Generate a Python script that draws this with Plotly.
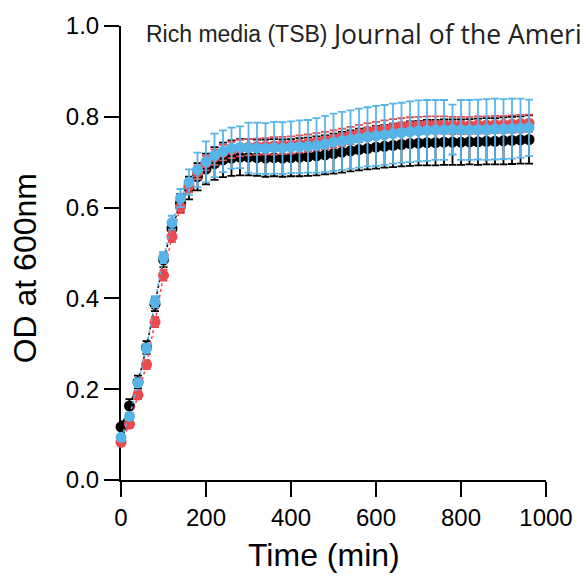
import plotly.graph_objects as go

# Sampling times (min)
time_min = list(range(0, 961, 20))

# Mean OD600 and error for each strain
od_black = [0.117, 0.163, 0.216, 0.292, 0.387, 0.485, 0.554, 0.610, 0.643, 0.668,
            0.685, 0.697, 0.705, 0.709, 0.711, 0.711, 0.710, 0.709, 0.710, 0.709,
            0.710, 0.711, 0.712, 0.714, 0.716, 0.719, 0.722, 0.725, 0.728, 0.730,
            0.733, 0.735, 0.737, 0.739, 0.741, 0.742, 0.743, 0.743, 0.744, 0.744,
            0.744, 0.745, 0.745, 0.746, 0.746, 0.747, 0.748, 0.749, 0.750]
err_black = [0.012, 0.015, 0.014, 0.014, 0.015, 0.016, 0.018, 0.020, 0.025, 0.030,
             0.034, 0.036, 0.038, 0.039, 0.040, 0.040, 0.040, 0.041, 0.041, 0.041,
             0.041, 0.042, 0.042, 0.043, 0.043, 0.044, 0.045, 0.045, 0.046, 0.046,
             0.047, 0.047, 0.048, 0.048, 0.049, 0.049, 0.050, 0.050, 0.050, 0.050,
             0.050, 0.050, 0.051, 0.051, 0.051, 0.052, 0.052, 0.052, 0.053]

od_red = [0.083, 0.123, 0.187, 0.254, 0.348, 0.451, 0.536, 0.601, 0.648, 0.678,
          0.698, 0.711, 0.721, 0.727, 0.731, 0.733, 0.734, 0.735, 0.736, 0.737,
          0.738, 0.740, 0.742, 0.745, 0.748, 0.751, 0.755, 0.759, 0.763, 0.767,
          0.770, 0.773, 0.776, 0.778, 0.780, 0.781, 0.782, 0.782, 0.782, 0.781,
          0.781, 0.781, 0.782, 0.782, 0.783, 0.783, 0.784, 0.785, 0.786]
err_red = [0.008, 0.008, 0.009, 0.010, 0.011, 0.012, 0.012, 0.013, 0.014, 0.015,
           0.016, 0.017, 0.017, 0.018, 0.018, 0.018, 0.018, 0.018, 0.019, 0.019,
           0.019, 0.019, 0.019, 0.019, 0.019, 0.019, 0.019, 0.019, 0.019, 0.019,
           0.019, 0.019, 0.019, 0.019, 0.019, 0.019, 0.019, 0.019, 0.019, 0.019,
           0.019, 0.019, 0.019, 0.019, 0.019, 0.019, 0.019, 0.019, 0.019]

od_blue = [0.094, 0.140, 0.214, 0.290, 0.393, 0.490, 0.567, 0.621, 0.656, 0.683,
           0.701, 0.715, 0.724, 0.731, 0.733, 0.732, 0.731, 0.730, 0.732, 0.731,
           0.733, 0.734, 0.735, 0.737, 0.740, 0.744, 0.747, 0.750, 0.753, 0.756,
           0.758, 0.760, 0.763, 0.765, 0.767, 0.769, 0.770, 0.771, 0.771, 0.772,
           0.771, 0.771, 0.772, 0.772, 0.773, 0.773, 0.774, 0.775, 0.776]
err_blue = [0.008, 0.008, 0.009, 0.010, 0.012, 0.012, 0.015, 0.020, 0.028, 0.038,
            0.045, 0.048, 0.046, 0.045, 0.046, 0.055, 0.056, 0.056, 0.057, 0.057,
            0.057, 0.058, 0.058, 0.060, 0.062, 0.063, 0.064, 0.064, 0.065, 0.065,
            0.066, 0.066, 0.066, 0.066, 0.067, 0.067, 0.067, 0.066, 0.066, 0.055,
            0.066, 0.066, 0.066, 0.067, 0.067, 0.066, 0.066, 0.065, 0.062]

series = [
    ("black", od_black, err_black, "#000000"),
    ("red", od_red, err_red, "#EB4A4E"),
    ("blue", od_blue, err_blue, "#56B4E9"),
]

fig = go.Figure()
for name, ys, errs, col in series:
    fig.add_trace(go.Scatter(
        x=time_min, y=ys, name=name, mode="lines+markers",
        line=dict(color=col, width=1.5, dash="dot"),
        marker=dict(color=col, size=11, line=dict(width=0)),
        error_y=dict(type="data", array=errs, visible=True,
                     color=col, thickness=1.8, width=4),
        cliponaxis=False, showlegend=False,
    ))

axis_font = dict(family="Liberation Sans, Arial, sans-serif", size=24, color="black")
common = dict(showline=True, linecolor="black", linewidth=2, ticks="outside",
              ticklen=15, tickwidth=2, tickcolor="black", showgrid=False,
              zeroline=False, tickfont=axis_font, layer="below traces")

fig.update_xaxes(range=[0, 1000], tickvals=[0, 200, 400, 600, 800, 1000], **common)
fig.update_yaxes(range=[0, 1.0], tickvals=[0, 0.2, 0.4, 0.6, 0.8, 1.0],
                 tickformat=".1f", **common)

title_font = dict(family="Liberation Sans, Arial, sans-serif", size=32, color="black")
fig.add_annotation(text="Time (min)", xref="paper", yref="paper", x=0.478, y=-0.165,
                   xanchor="center", yanchor="middle", showarrow=False, font=title_font)
fig.add_annotation(text="OD at 600nm", xref="paper", yref="paper", x=-0.225, y=0.467,
                   xanchor="center", yanchor="middle", textangle=-90, showarrow=False,
                   font=title_font)
fig.add_annotation(text="Rich media (TSB)", xref="paper", yref="paper", x=0.055, y=0.982,
                   xanchor="left", yanchor="middle", showarrow=False,
                   font=dict(family="Liberation Sans, Arial, sans-serif", size=23, color="#222"))
fig.add_annotation(text="Journal of the Ameri", xref="paper", yref="paper", x=0.49, y=0.982,
                   xanchor="left", yanchor="middle", showarrow=False,
                   font=dict(family="Open Sans, sans-serif", size=26.5, color="#222"))

fig.update_layout(width=585, height=582, margin=dict(l=121, r=37, t=22, b=102),
                  plot_bgcolor="white", paper_bgcolor="white")

fig.write_html("out.html")
